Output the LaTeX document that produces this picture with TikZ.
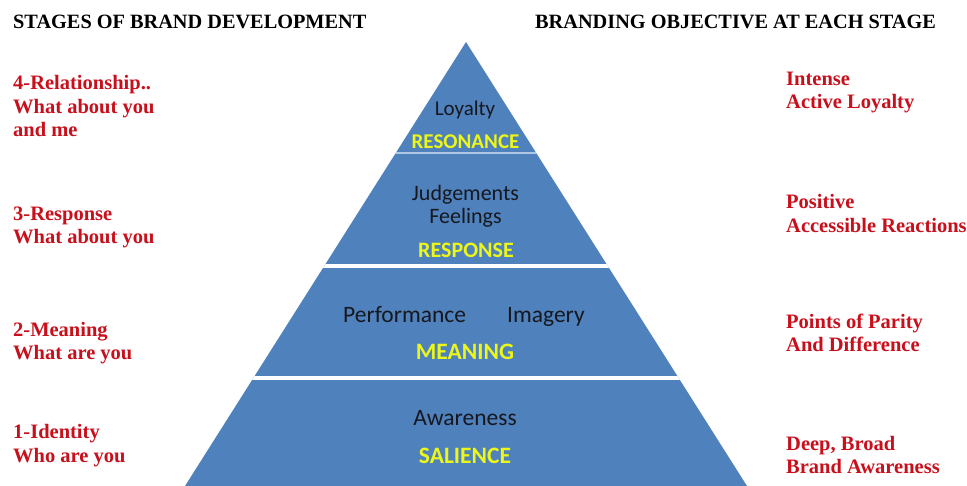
\documentclass[tikz,border=0pt]{standalone}
\usepackage{fontspec}
\setmainfont{Liberation Serif}
\newfontfamily\calib{Carlito}
\definecolor{pyblue}{RGB}{79,129,189}
\definecolor{sepblue}{RGB}{175,200,228}
\definecolor{stagered}{RGB}{200,16,28}
\definecolor{lblyellow}{RGB}{236,246,24}
\definecolor{txtdark}{RGB}{22,24,30}
\begin{document}
\begin{tikzpicture}[x=1pt,y=-1pt,
  header/.style={font=\bfseries\fontsize{20.3}{24}\selectfont, text=black, anchor=base west, inner sep=0},
  redtext/.style={font=\bfseries\fontsize{20.5}{23.5}\selectfont, text=stagered, anchor=base west, inner sep=0},
  inner/.style={font=\calib\fontsize{#1}{#1}\selectfont, text=txtdark, anchor=base, inner sep=0},
  lvl/.style={font=\calib\bfseries\fontsize{#1}{#1}\selectfont, text=lblyellow, anchor=base, inner sep=0}]
\useasboundingbox (0,0) rectangle (967,485);
% pyramid
\fill[pyblue] (466,42) -- (747,486) -- (185,486) -- cycle;
\begin{scope}
  \clip (466,42) -- (747,486) -- (185,486) -- cycle;
  \draw[sepblue, line width=1.6] (0,153) -- (967,153);
  \fill[white] (0,263.5) rectangle (967,267.5);
  \fill[white] (0,375.5) rectangle (967,379.5);
\end{scope}
% headers
\node[header] (hl) at (13,28) {STAGES OF BRAND DEVELOPMENT};
\node[header] (hr) at (535,28) {BRANDING OBJECTIVE AT EACH STAGE};
% left stages
\node[redtext] (l4a) at (13,89) {4-Relationship..};
\node[redtext] (l4b) at (13,113) {What about you};
\node[redtext] (l4c) at (13,136) {and me};
\node[redtext] (l3a) at (13,220) {3-Response};
\node[redtext] (l3b) at (13,243) {What about you};
\node[redtext] (l2a) at (13,336) {2-Meaning};
\node[redtext] (l2b) at (13,359) {What are you};
\node[redtext] (l1a) at (13,438) {1-Identity};
\node[redtext] (l1b) at (13,462) {Who are you};
% right objectives
\node[redtext] (r4a) at (786,85) {Intense};
\node[redtext] (r4b) at (786,108) {Active Loyalty};
\node[redtext] (r3a) at (786,208) {Positive};
\node[redtext] (r3b) at (786,232) {Accessible Reactions};
\node[redtext] (r2a) at (786,328) {Points of Parity};
\node[redtext] (r2b) at (786,351) {And Difference};
\node[redtext] (r1a) at (786,450) {Deep, Broad};
\node[redtext] (r1b) at (786,473) {Brand Awareness};
% pyramid texts
\node[inner=21] (loy) at (465,115) {Loyalty};
\node[lvl=21] (reso) at (465.5,148) {RESONANCE};
\node[inner=22] (jud) at (465.5,200) {Judgements};
\node[inner=22] (fee) at (465.5,223) {Feelings};
\node[lvl=22] (resp) at (466,257) {RESPONSE};
\node[inner=23.5, anchor=base west] (perf) at (343,322) {Performance};
\node[inner=23.5, anchor=base west] (img) at (507,322) {Imagery};
\node[lvl=23.5] (mean) at (465,359) {MEANING};
\node[inner=23.5] (aw) at (465,425) {Awareness};
\node[lvl=23.5] (sal) at (465,463) {SALIENCE};
\end{tikzpicture}
\end{document}
